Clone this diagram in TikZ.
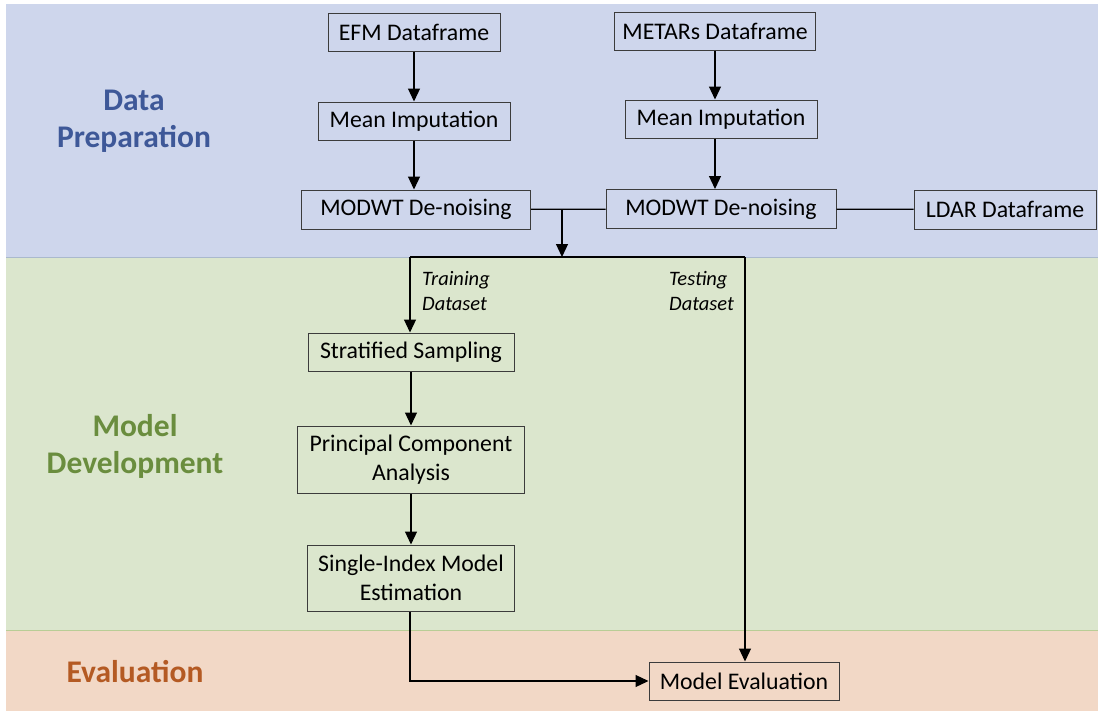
\documentclass[tikz,border=0pt]{standalone}
\usepackage{fontspec}
\setmainfont{Carlito}
\usetikzlibrary{arrows.meta}
\definecolor{prepband}{RGB}{206,214,236}
\definecolor{devband}{RGB}{219,230,205}
\definecolor{evalband}{RGB}{242,216,198}
\definecolor{prepline}{RGB}{170,185,205}
\definecolor{devline}{RGB}{185,205,150}
\definecolor{preptext}{RGB}{62,88,152}
\definecolor{devtext}{RGB}{106,141,62}
\definecolor{evaltext}{RGB}{180,90,35}
\definecolor{boxgray}{RGB}{60,60,60}
\begin{document}
\begin{tikzpicture}[x=1pt,y=-1pt]
\tikzstyle{every node}+=[inner sep=0pt]
\tikzstyle{box}=[draw=boxgray, line width=1pt, minimum height=38pt, align=center, font=\fontsize{23.8}{28.5}\selectfont]
\tikzstyle{stage}=[align=center, font=\bfseries\fontsize{31.5}{37}\selectfont]
\tikzstyle{split}=[align=left, font=\itshape\fontsize{20.5}{25}\selectfont]
\tikzstyle{flow}=[line width=1.2pt, -{Triangle[length=13pt,width=12pt]}]
\tikzstyle{link}=[line width=1.2pt]
\useasboundingbox (0,0) rectangle (1098,713);
% bands
\fill [prepband] (6,4) rectangle (1098,257);
\fill [devband] (6,257) rectangle (1098,630);
\fill [evalband] (6,630) rectangle (1098,711);
\draw [prepline] (6,257) -- (1098,257);
\draw [devline] (6,630) -- (1098,630);
\node [stage, text=preptext] (prep) at (134,121) {Data\\Preparation};
\node [stage, text=devtext] (dev) at (135,446) {Model\\Development};
\node [stage, text=evaltext] (evl) at (135,672) {Evaluation};
% data preparation
\node [box, minimum width=172pt] (efm) at (414,32) {EFM Dataframe};
\node [box, minimum width=201pt] (metar) at (715,31) {METARs Dataframe};
\node [box, minimum width=192pt] (impL) at (414,121) {Mean Imputation};
\node [box, minimum width=192pt] (impR) at (721,119) {Mean Imputation};
\node [box, minimum width=229pt, minimum height=39pt] (modL) at (416,209.5) {MODWT De-noising};
\node [box, minimum width=230pt, minimum height=39pt] (modR) at (721,209) {MODWT De-noising};
\node [box, minimum width=182pt, minimum height=39pt] (ldar) at (1005,209.5) {LDAR Dataframe};
\draw [flow] (efm) -- (impL);
\draw [flow] (impL) -- (impL |- modL.north);
\draw [flow] (metar) -- (metar |- impR.north);
\draw [flow] (impR.south -| metar) -- (metar |- modR.north);
\draw [link] (modL) -- (modR);
\draw [link] (modR) -- (ldar);
\coordinate (join) at (562,209);
\coordinate (split) at (562,257);
\draw [flow] (join) -- (split);
% model development
\node [box, minimum width=206pt] (strat) at (411,352) {Stratified Sampling};
\node [box, minimum width=227pt, minimum height=67pt] (pca) at (411,459.5) {Principal Component\\Analysis};
\node [box, minimum width=207pt, minimum height=66pt] (sim) at (411,578) {Single-Index Model\\Estimation};
\node [box, minimum width=190pt] (mev) at (744,681) {Model Evaluation};
\coordinate (train) at (410,257);
\coordinate (test) at (745,257);
\draw [link] (train) -- (test);
\draw [flow] (train) -- (train |- strat.north);
\draw [flow] (test) -- (test |- mev.north);
\node [split, anchor=west] (trainlbl) at (422,291) {Training\\Dataset};
\node [split, anchor=west] (testlbl) at (669,291) {Testing\\Dataset};
\draw [flow] (strat) -- (pca);
\draw [flow] (pca) -- (sim);
\draw [flow] (sim.south -| train) |- (mev.west);
\end{tikzpicture}
\end{document}
